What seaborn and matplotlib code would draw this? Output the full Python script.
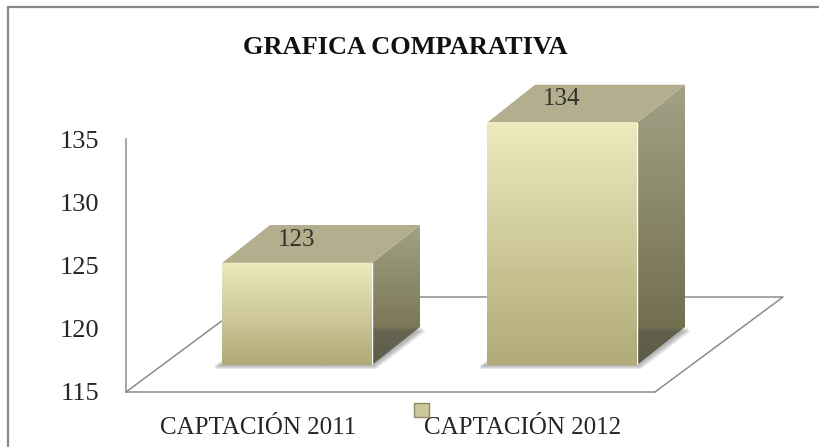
import matplotlib
matplotlib.use('Agg')
import matplotlib.pyplot as plt
import matplotlib.colors as mcolors
from matplotlib.patches import Polygon, Patch
import numpy as np
import seaborn as sns

categories = ['CAPTACIÓN 2011', 'CAPTACIÓN 2012']
values = [123, 134]
y_ticks = [115, 120, 125, 130, 135]
y_min, y_max = 115, 135
title = 'GRAFICA COMPARATIVA'

sns.set_theme(style='white')
plt.rcParams['font.family'] = ['Liberation Serif', 'DejaVu Serif']

W, H = 819, 447
fig = plt.figure(figsize=(W / 100, H / 100), dpi=100)
fig.patch.set_facecolor('white')


def px_axes(left, top, right, bottom):
    # axes placed by pixel box (top-left origin)
    return fig.add_axes([left / W, 1 - bottom / H, (right - left) / W, (bottom - top) / H])


def grad(top, bottom, n=64):
    t = np.linspace(0, 1, n)[:, None]
    c0 = np.array(mcolors.to_rgb(top))
    c1 = np.array(mcolors.to_rgb(bottom))
    return (c0 * (1 - t) + c1 * t)[:, None, :]


# chart frame, only top and left edges are inside the picture
fig.patches.append(plt.Rectangle((7.5 / W, -0.2), 1.3, 1.2 - 6.5 / H, transform=fig.transFigure,
                                 fill=False, ec='#8a8a8a', lw=1.6))

# wall / floor axes with the value scale
ax = px_axes(126, 139, 655, 392)
ax.set_zorder(0)
ax.patch.set_alpha(0)
ax.set_ylim(y_min, y_max)
ax.set_yticks(y_ticks)
ax.set_xlim(-0.5, len(categories) - 0.5)
ax.set_xticks(range(len(categories)))
ax.set_xticklabels(categories)
ax.tick_params(length=0, labelsize=18, colors='#262626')
ax.tick_params(axis='y', pad=19, labelsize=19)
ax.tick_params(axis='x', pad=18)
for s in ['top', 'right']:
    ax.spines[s].set_visible(False)
for s in ['left', 'bottom']:
    ax.spines[s].set_color('#8c8c8c')
    ax.spines[s].set_linewidth(1.1)
floor = [(0, 0), (0.242, 0.3755), (1.242, 0.3755), (1, 0)]
ax.plot(*zip(*floor), transform=ax.transAxes, color='#8c8c8c', lw=1.1, clip_on=False)

# overlay in pixel coords for the 3d faces
ov = fig.add_axes([0, 0, 1, 1])
ov.set_zorder(1)
ov.axis('off')

# bars (front faces)
axb = px_axes(164.5, 365 - 255, 694.5, 365)
axb.set_zorder(2)
sns.barplot(x=categories, y=values, ax=axb, width=150 / 265, color='#D6D0A2', saturation=1)
axb.set_ylim(y_min, y_max)
axb.set_xlim(-0.5, len(categories) - 0.5)
axb.axis('off')

dx, dy = 48, 38
for bar in list(axb.patches):
    x0, x1 = bar.get_x(), bar.get_x() + bar.get_width()
    y0 = max(bar.get_y(), y_min)
    y1 = bar.get_y() + bar.get_height()
    axb.imshow(grad('#EEE9BE', '#B1AB7A'), extent=(x0, x1, y0, y1), aspect='auto',
               origin='upper', zorder=bar.get_zorder() + 0.1)
    (p0x, p0y), (p1x, p1y) = axb.transData.transform([(x0, y0), (x1, y1)])

    # soft shadow on the floor: a few shifted footprints
    for k in range(1, 5):
        foot = [(p0x - 8, p0y - k), (p1x + k, p0y - k), (p1x + dx + k + 2, p0y + dy - k),
                (p0x + dx, p0y + dy - k)]
        ov.add_patch(Polygon(foot, closed=True, fc='#505050', ec='none', alpha=0.13))

    side = Polygon([(p1x, p0y), (p1x, p1y), (p1x + dx, p1y + dy), (p1x + dx, p0y + dy)],
                   closed=True, fc='none', ec='none')
    ov.add_patch(side)
    im = ov.imshow(grad('#A3A185', '#6A6846'), extent=(p1x, p1x + dx, p0y, p1y + dy),
                   aspect='auto', origin='upper')
    im.set_clip_path(side)

    top = Polygon([(p0x, p1y), (p1x, p1y), (p1x + dx, p1y + dy), (p0x + dx, p1y + dy)],
                  closed=True, fc='#B3AF8E', ec='none')
    ov.add_patch(top)

ov.set_xlim(0, W)
ov.set_ylim(0, H)

axb.bar_label(axb.containers[0], fmt='{:.0f}', padding=9, fontsize=18, color='#34332b')

# little legend key like the original
fig.legend(handles=[Patch(facecolor='#CEC899', edgecolor='#8E8B62')], labels=[''],
           loc='upper left', bbox_to_anchor=(414 / W, 1 - 403 / H), frameon=False,
           borderpad=0, borderaxespad=0, handlelength=1, handleheight=1,
           handletextpad=0, fontsize=11)

fig.text(405 / W, 1 - 47 / H, title, ha='center', va='center', fontsize=19,
         fontweight='bold', color='#111111')

fig.savefig('out.png', dpi=100)
